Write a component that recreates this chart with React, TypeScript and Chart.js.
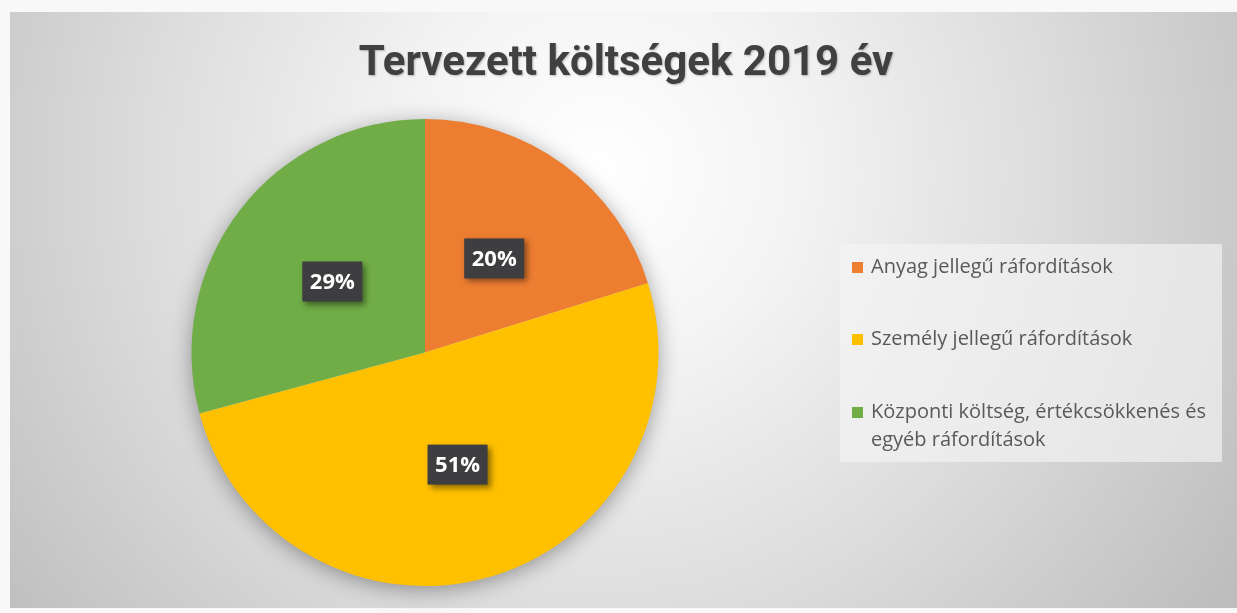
import React, { useEffect, useRef } from "react";
import { Chart, registerables } from "chart.js";

Chart.register(...registerables);

const TITLE = "Tervezett költségek 2019 év";
const categories = [
  "Anyag jellegű ráfordítások",
  "Személy jellegű ráfordítások",
  "Központi költség, értékcsökkenés és egyéb ráfordítások",
];
const legendLines = [
  ["Anyag jellegű ráfordítások"],
  ["Személy jellegű ráfordítások"],
  ["Központi költség, értékcsökkenés és", "egyéb ráfordítások"],
];
const values = [20.2, 50.6, 29.2];
const colors = ["#ED7D31", "#FFC000", "#70AD47"];

const W = 1237;
const H = 613;

const bgPlugin = {
  id: "bgPlugin",
  beforeDraw(chart: any) {
    const ctx = chart.ctx;
    ctx.save();
    ctx.fillStyle = "#f8f8f8";
    ctx.fillRect(0, 0, W, H);
    const g = ctx.createRadialGradient(600, 170, 0, 600, 170, 760);
    g.addColorStop(0, "#ffffff");
    g.addColorStop(0.25, "#f4f4f4");
    g.addColorStop(0.6, "#dcdcdc");
    g.addColorStop(1, "#bdbdbd");
    ctx.fillStyle = g;
    ctx.fillRect(10, 12, W - 10, 596);
    // title
    ctx.fillStyle = "#404040";
    ctx.font = "bold 42px Roboto, 'Open Sans', sans-serif";
    ctx.textAlign = "center";
    ctx.textBaseline = "alphabetic";
    ctx.shadowColor = "rgba(0,0,0,0.25)";
    ctx.shadowBlur = 2;
    ctx.shadowOffsetX = 1;
    ctx.shadowOffsetY = 1;
    ctx.fillText(TITLE, 626, 75);
    ctx.restore();

    // legend
    ctx.save();
    ctx.fillStyle = "rgba(245,245,245,0.65)";
    ctx.fillRect(840, 244, 382, 218);
    const ys = [267, 339, 412];
    ctx.font = "20px 'Open Sans', sans-serif";
    ctx.textBaseline = "middle";
    ctx.textAlign = "left";
    legendLines.forEach((lines, i) => {
      ctx.fillStyle = colors[i];
      ctx.fillRect(852, ys[i] - 5, 11, 11);
      ctx.fillStyle = "#595959";
      lines.forEach((t, j) => {
        ctx.fillText(t, 871, ys[i] + j * 28);
      });
    });
    ctx.restore();
  },
  beforeDatasetsDraw(chart: any) {
    const arc = chart.getDatasetMeta(0).data[0];
    if (!arc) return;
    const ctx = chart.ctx;
    ctx.save();
    ctx.shadowColor = "rgba(0,0,0,0.38)";
    ctx.shadowBlur = 22;
    ctx.shadowOffsetY = 4;
    ctx.fillStyle = "#dddddd";
    ctx.beginPath();
    ctx.arc(arc.x, arc.y, arc.outerRadius - 1, 0, Math.PI * 2);
    ctx.fill();
    ctx.restore();
  },
  afterDatasetsDraw(chart: any) {
    const ctx = chart.ctx;
    const meta = chart.getDatasetMeta(0);
    const total = values.reduce((a, b) => a + b, 0);
    meta.data.forEach((arc: any, i: number) => {
      const p = arc.getCenterPoint();
      const txt = Math.round((values[i] / total) * 100) + "%";
      const bw = 60;
      const bh = 40;
      ctx.save();
      ctx.shadowColor = "rgba(0,0,0,0.45)";
      ctx.shadowBlur = 6;
      ctx.shadowOffsetX = 3;
      ctx.shadowOffsetY = 3;
      ctx.fillStyle = "#3e3e40";
      ctx.fillRect(p.x - bw / 2, p.y - bh / 2, bw, bh);
      ctx.restore();
      ctx.save();
      ctx.fillStyle = "#ffffff";
      ctx.font = "bold 22px 'Open Sans', sans-serif";
      ctx.textAlign = "center";
      ctx.textBaseline = "middle";
      ctx.fillText(txt, p.x, p.y + 1);
      ctx.restore();
    });
  },
};

export default function App() {
  const ref = useRef<HTMLCanvasElement>(null);
  useEffect(() => {
    if (!ref.current) return;
    const chart = new Chart(ref.current, {
      type: "pie",
      data: {
        labels: categories,
        datasets: [
          {
            data: values,
            backgroundColor: colors,
            borderWidth: 0,
          },
        ],
      },
      options: {
        animation: false,
        responsive: false,
        maintainAspectRatio: false,
        layout: { padding: { left: 191, right: W - 659, top: 119, bottom: H - 586 } },
        plugins: {
          legend: { display: false },
          title: { display: false },
          tooltip: { enabled: false },
        },
      },
      plugins: [bgPlugin],
    });
    return () => chart.destroy();
  }, []);
  return (
    <div style={{ position: "absolute", left: 0, top: 0, width: W, height: H }}>
      <canvas ref={ref} width={W} height={H} style={{ width: W, height: H }} />
    </div>
  );
}
